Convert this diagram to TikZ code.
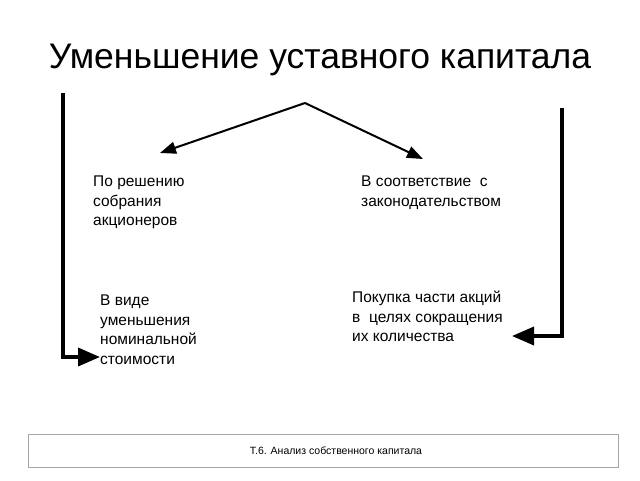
\documentclass[tikz,border=0pt]{standalone}
\usepackage{fontspec}
\setmainfont{Liberation Sans}
\usetikzlibrary{arrows.meta}
\tikzset{
  lbl/.style={anchor=north west, align=left, font=\fontsize{15.5}{19.5}\selectfont, inner sep=0pt},
  thick arrow/.style={line width=3.5pt, -{Triangle[length=22pt,width=18pt]}},
  thin arrow/.style={line width=2pt, -{Triangle[length=16pt,width=12pt]}}
}
\begin{document}
\begin{tikzpicture}[x=1pt,y=-1pt]
\useasboundingbox (0,0) rectangle (640,480);
\node (title) at (320,60) {\fontsize{35.5}{40}\selectfont Уменьшение уставного капитала};
\coordinate (apex) at (305,103);
\coordinate (la) at (160,153);
\coordinate (ra) at (423,159);
\draw[thin arrow] (apex) -- (la);
\draw[thin arrow] (apex) -- (ra);
\node[lbl] (n1) at (93,176) {По решению\\собрания\\акционеров};
\node[lbl] (n2) at (361,176) {В соответствие~ с\\законодательством};
\node[lbl] (n3) at (100,295) {В виде\\уменьшения\\номинальной\\стоимости};
\node[lbl] (n4) at (352,291) {Покупка части акций\\в~ целях сокращения\\их количества};
\coordinate (lt) at (63,93);
\coordinate (lb) at (63,357);
\coordinate (le) at (100,357);
\draw[thick arrow] (lt) -- (lb) -- (le);
\coordinate (rt) at (562,108);
\coordinate (rb) at (562,336);
\coordinate (re) at (512,336);
\draw[thick arrow] (rt) -- (rb) -- (re);
\node[draw=gray!70, line width=1pt, minimum width=590pt, minimum height=33pt, inner sep=0pt] (foot) at (323,451) {};
\node[font=\fontsize{10.5}{12}\selectfont] (foottext) at (336,451) {Т.6. Анализ собственного капитала};
\end{tikzpicture}
\end{document}
